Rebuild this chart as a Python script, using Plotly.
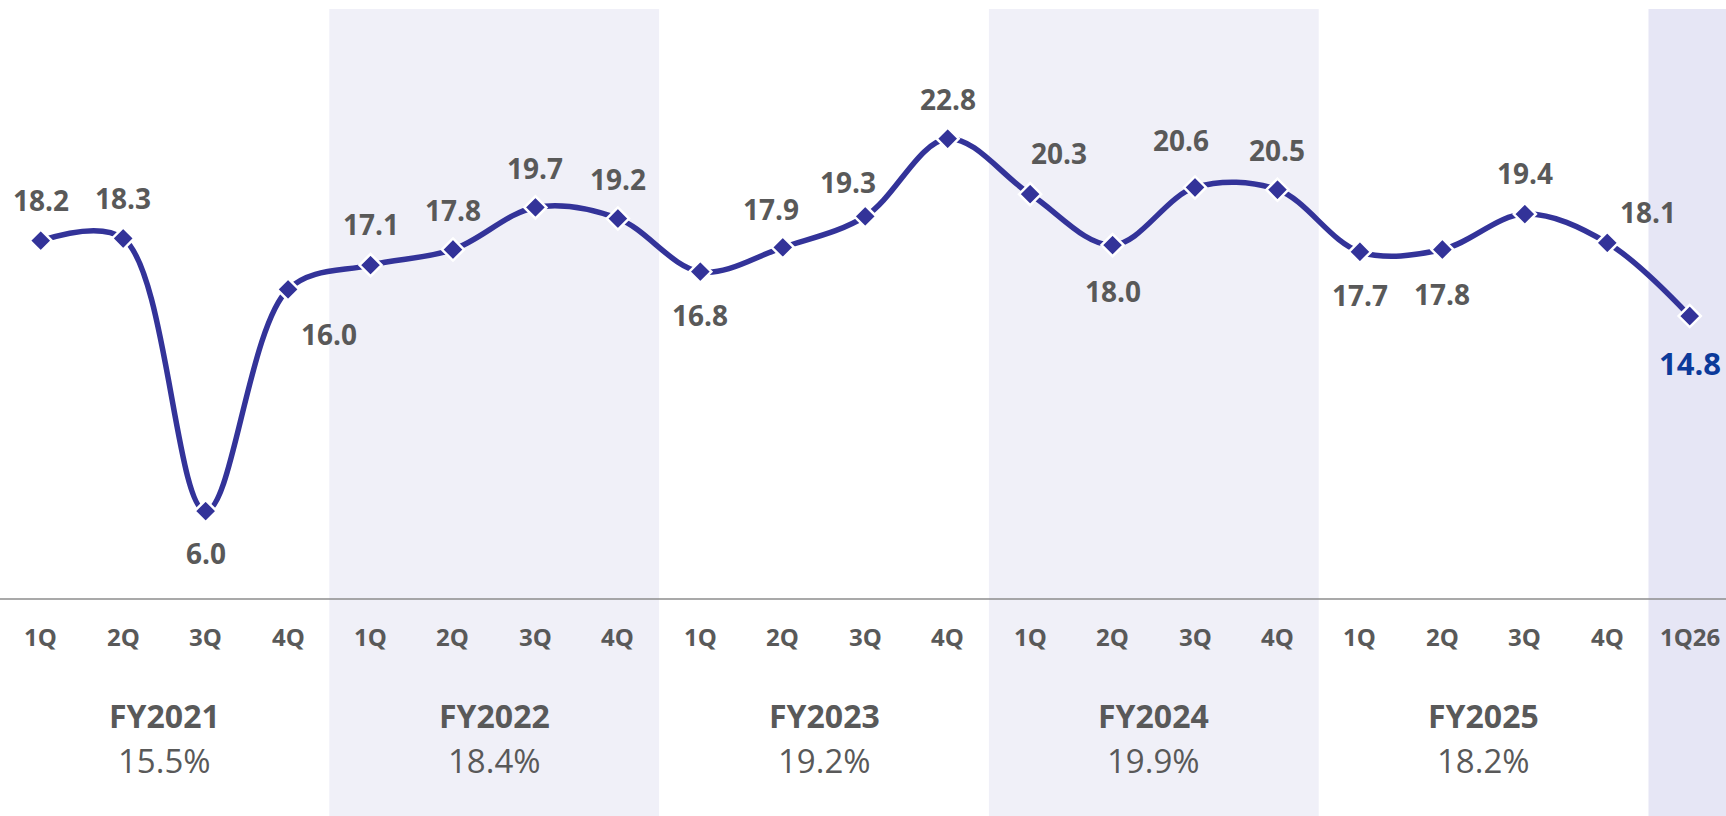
import plotly.graph_objects as go

# ---- data ----
quarters = ["1Q", "2Q", "3Q", "4Q", "1Q", "2Q", "3Q", "4Q", "1Q", "2Q", "3Q", "4Q",
            "1Q", "2Q", "3Q", "4Q", "1Q", "2Q", "3Q", "4Q", "1Q26"]
values = [18.2, 18.3, 6.0, 16.0, 17.1, 17.8, 19.7, 19.2, 16.8, 17.9, 19.3, 22.8,
          20.3, 18.0, 20.6, 20.5, 17.7, 17.8, 19.4, 18.1, 14.8]
fiscal_years = ["FY2021", "FY2022", "FY2023", "FY2024", "FY2025"]
fy_values = ["15.5%", "18.4%", "19.2%", "19.9%", "18.2%"]

# ---- label placement (pixel offsets: dx, dy-up) ----
label_offsets = [(0, 41), (0, 40), (0, -42), (41, -45), (0, 41), (0, 40), (0, 39), (0, 40),
                 (0, -43), (-12, 38), (-17, 34), (0, 40), (29, 41), (0, -46), (-14, 47),
                 (0, 40), (0, -43), (0, -44), (0, 41), (41, 31), (0, -47)]

W, H = 1726, 816
LINE = "#333399"
GREY = "#595959"
BAND = "#F0F0F8"
BAND_LAST = "#E6E6F5"

x = list(range(len(values)))

fig = go.Figure()
fig.add_trace(go.Scatter(
    x=x, y=values, mode="lines+markers",
    line=dict(color=LINE, width=5.5, shape="spline", smoothing=1.0),
    marker=dict(symbol="diamond", size=17, color=LINE, line=dict(color="white", width=2.5)),
    hoverinfo="skip", showlegend=False,
))

shapes = []
# shaded fiscal-year bands
for i, fy in enumerate(fiscal_years):
    if i % 2 == 1:
        shapes.append(dict(type="rect", xref="x", yref="paper", x0=4 * i - 0.5, x1=4 * i + 3.5,
                           y0=0, y1=1 - 9 / H, fillcolor=BAND, line_width=0, layer="below"))
last = len(values) - 1
shapes.append(dict(type="rect", xref="x", yref="paper", x0=last - 0.5, x1=last + 1.5,
                   y0=0, y1=1 - 9 / H, fillcolor=BAND_LAST, line_width=0, layer="below"))
# baseline
shapes.append(dict(type="line", xref="paper", yref="paper", x0=0, x1=1,
                   y0=1 - 599 / H, y1=1 - 599 / H, line=dict(color="#8c8c8c", width=1.5)))

annotations = []
for i, v in enumerate(values):
    dx, dy = label_offsets[i]
    is_last = i == last
    annotations.append(dict(
        x=i, y=v, xref="x", yref="y", text=f"{v:.1f}", showarrow=False,
        xanchor="center", yanchor="middle", xshift=dx, yshift=dy,
        font=dict(family="Open Sans", size=31 if is_last else 28,
                  color="#0B3A9A" if is_last else GREY, weight="bold"),
    ))
for i, q in enumerate(quarters):
    annotations.append(dict(
        x=i, y=1 - 636 / H, xref="x", yref="paper", text=q, showarrow=False,
        xanchor="center", yanchor="middle",
        font=dict(family="Open Sans", size=24, color=GREY, weight="bold"),
    ))
for i, (fy, pct) in enumerate(zip(fiscal_years, fy_values)):
    annotations.append(dict(
        x=4 * i + 1.5, y=1 - 715 / H, xref="x", yref="paper", text=fy, showarrow=False,
        xanchor="center", yanchor="middle",
        font=dict(family="Open Sans", size=32, color=GREY, weight="bold"),
    ))
    annotations.append(dict(
        x=4 * i + 1.5, y=1 - 760 / H, xref="x", yref="paper", text=pct, showarrow=False,
        xanchor="center", yanchor="middle",
        font=dict(family="Open Sans", size=33, color=GREY),
    ))

fig.update_layout(
    width=W, height=H,
    margin=dict(l=0, r=0, t=0, b=0),
    paper_bgcolor="white", plot_bgcolor="white",
    xaxis=dict(range=[-0.494, 20.44], visible=False, fixedrange=True),
    yaxis=dict(range=[-7.76, 29.06], visible=False, fixedrange=True),
    shapes=shapes, annotations=annotations,
    hovermode=False,
)

fig.write_html(
    "out.html",
    config={"displayModeBar": False},
    post_script="document.body.style.margin='0';document.body.style.overflow='hidden';",
)
